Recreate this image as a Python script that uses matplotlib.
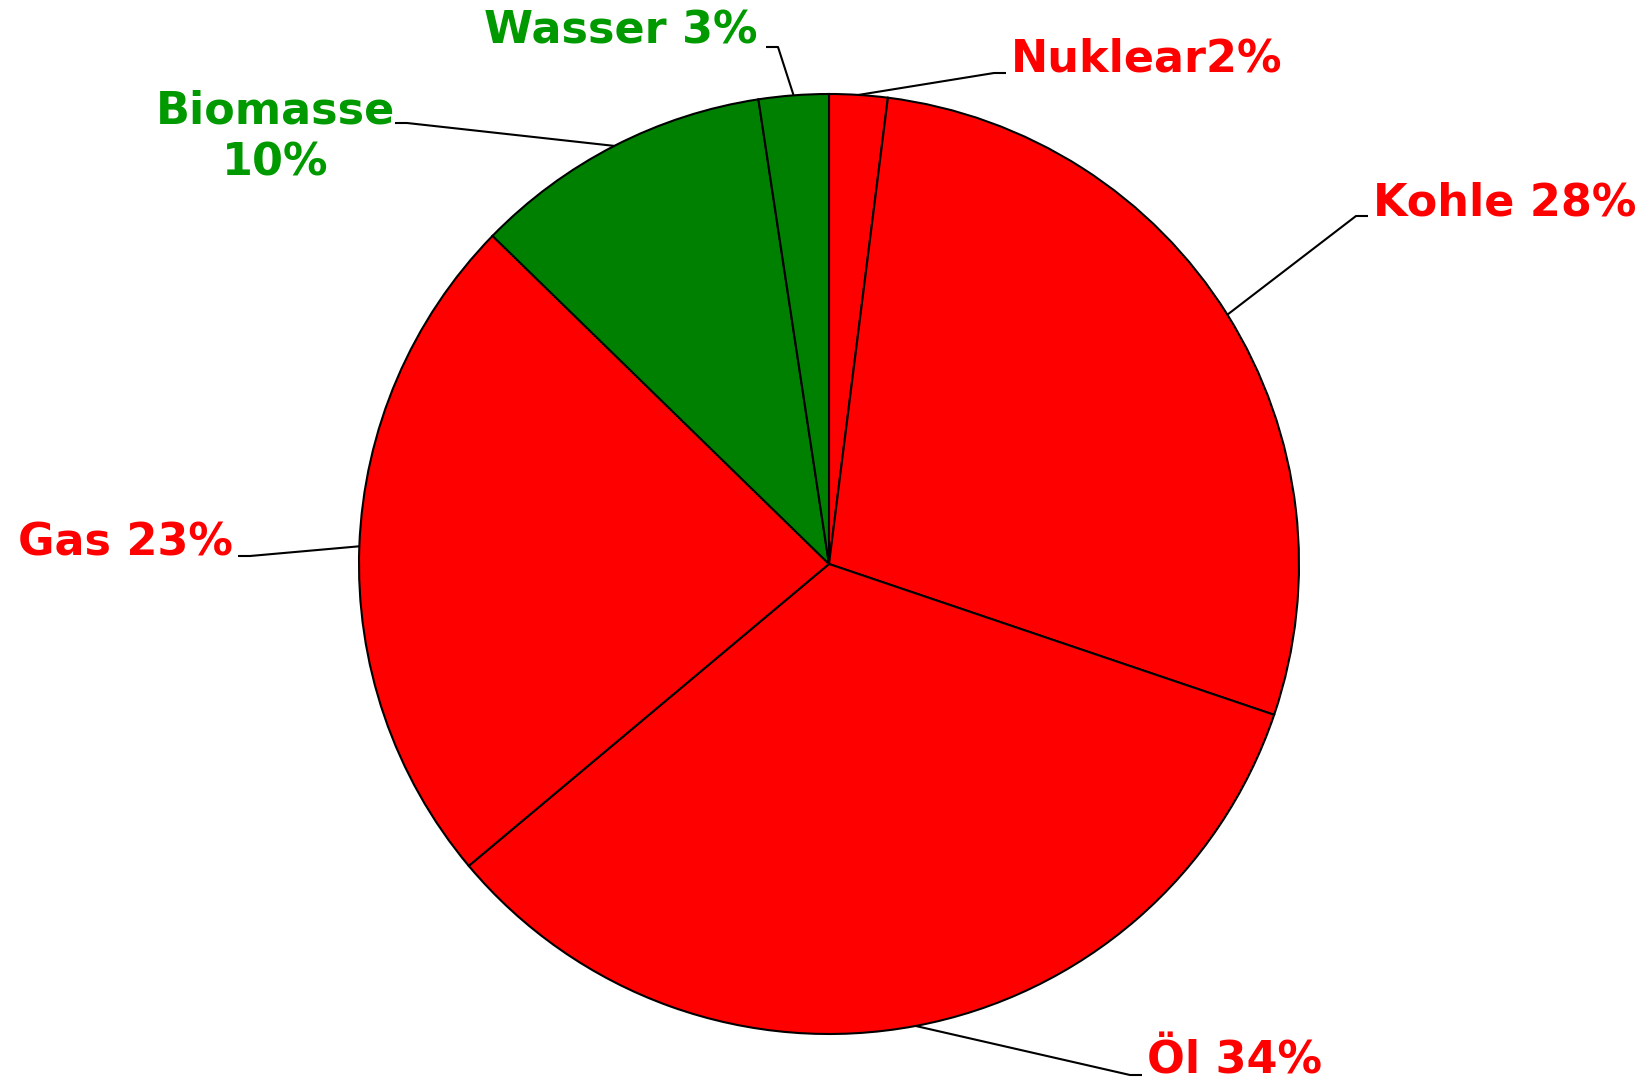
import numpy as np
import matplotlib.pyplot as plt

# energy mix, clockwise from the top
labels = ['Nuklear2%', 'Kohle 28%', 'Öl 34%', 'Gas 23%', 'Biomasse\n10%', 'Wasser 3%']
values = [2.0, 28.2, 33.7, 23.4, 10.3, 2.4]
slice_colors = ['#ff0000', '#ff0000', '#ff0000', '#ff0000', '#008000', '#008000']
text_colors = ['#ff0000', '#ff0000', '#ff0000', '#ff0000', '#009900', '#009900']

W, H = 1644, 1080
FS = 32
fig = plt.figure(figsize=(W / 100, H / 100), dpi=100)
ax = fig.add_axes([0, 0, 1, 1])

cx, cy, r = 829, H - 564, 470
wedges, _ = ax.pie(values, colors=slice_colors, startangle=90, counterclock=False,
                   center=(cx, cy), radius=r, frame=True,
                   wedgeprops=dict(edgecolor='black', linewidth=1.5))
ax.set_xlim(0, W)
ax.set_ylim(0, H)
ax.set_aspect('equal')
ax.axis('off')

# elbow of each leader line (pixel coords from top), and which side the label sits
elbows = [(994, 73), (1356, 216), (1130, 1075), (250, 556), (407, 123), (778, 47)]
sides = [1, 1, 1, -1, -1, -1]

for w, lab, tc, (ex, ey), s in zip(wedges, labels, text_colors, elbows, sides):
    mid = np.deg2rad((w.theta1 + w.theta2) / 2)
    px, py = cx + r * np.cos(mid), cy + r * np.sin(mid)
    ey = H - ey
    ax.plot([px, ex, ex + 12 * s], [py, ey, ey],
            color='black', lw=1.5, solid_capstyle='butt')
    if lab.startswith('Biomasse'):
        ax.text(275, H - 123, 'Biomasse', color=tc, fontsize=FS, weight='bold',
                ha='center', va='baseline')
        ax.text(275, H - 175, '10%', color=tc, fontsize=FS, weight='bold',
                ha='center', va='baseline')
    elif lab == 'Wasser 3%':
        ax.text(757, H - 43, lab, color=tc, fontsize=FS, weight='bold',
                ha='right', va='baseline')
    else:
        ax.text(ex + 17 * s, ey + 1, lab, color=tc, fontsize=FS, weight='bold',
                ha='left' if s > 0 else 'right', va='baseline')

fig.savefig('out.png', dpi=100, facecolor='white')
